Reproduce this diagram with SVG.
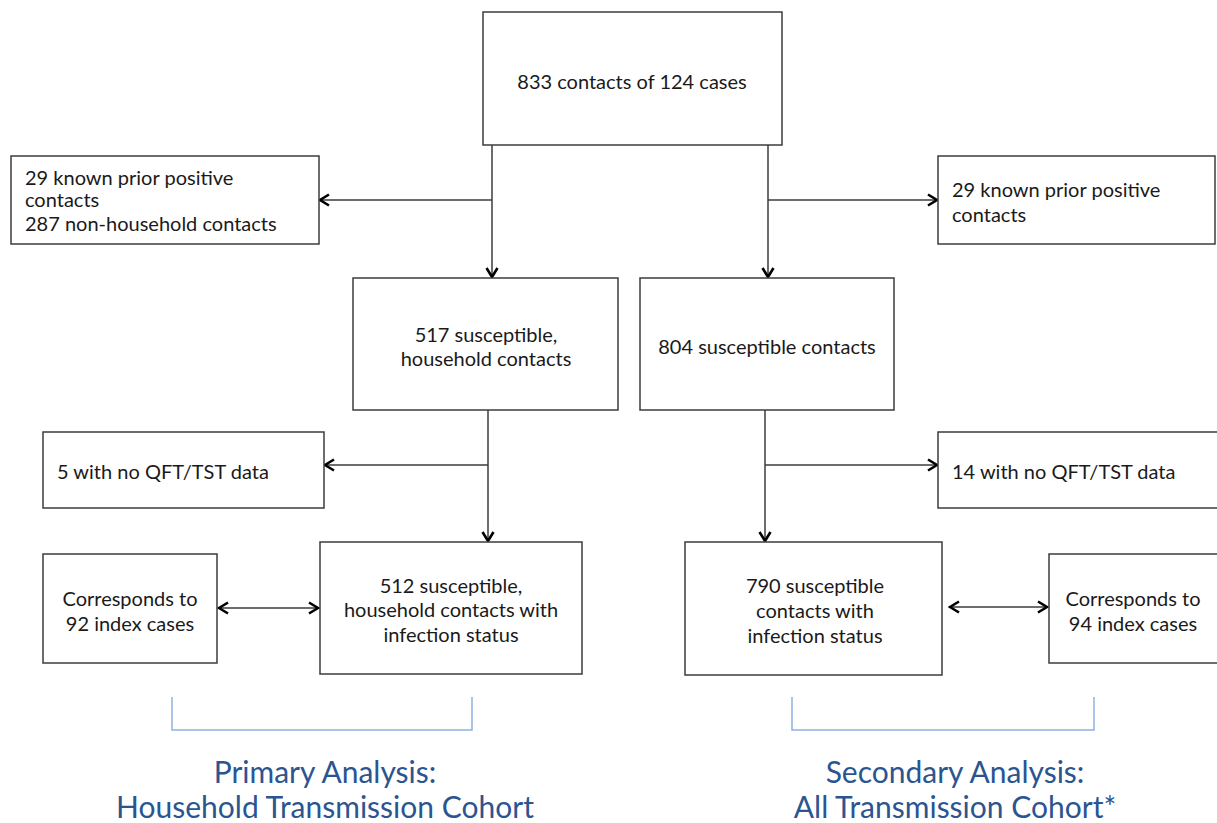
<svg xmlns="http://www.w3.org/2000/svg" width="1217" height="823" viewBox="0 0 1217 823">
<style>
.box{fill:#fff;stroke:#3c3c3c;stroke-width:1.5}
.t{font-family:Lato,"Open Sans",sans-serif;font-size:20px;fill:#1a1a1a}
.c{text-anchor:middle}
.ln{stroke:#3c3c3c;stroke-width:1.5;fill:none}
.br{stroke:#8fb3df;stroke-width:1.5;fill:none}
.title{font-family:Lato,"Open Sans",sans-serif;font-size:30px;fill:#2b5591;text-anchor:middle}
</style>
<defs>
<marker id="ah" viewBox="0 0 14 14" refX="12" refY="7" markerWidth="14" markerHeight="14" markerUnits="userSpaceOnUse" orient="auto-start-reverse">
<path d="M3,1.5 L12,7 L3,12.5" fill="none" stroke="#000" stroke-width="2.6"/>
</marker>
</defs>
<rect width="1217" height="823" fill="#fff"/>
<g id="connectors">
<line class="ln" x1="492" y1="145" x2="492" y2="277" marker-end="url(#ah)"/>
<line class="ln" x1="492" y1="200" x2="320" y2="200" marker-end="url(#ah)"/>
<line class="ln" x1="768" y1="145" x2="768" y2="277" marker-end="url(#ah)"/>
<line class="ln" x1="768" y1="200" x2="937" y2="200" marker-end="url(#ah)"/>
<line class="ln" x1="488" y1="410" x2="488" y2="541" marker-end="url(#ah)"/>
<line class="ln" x1="488" y1="465" x2="325" y2="465" marker-end="url(#ah)"/>
<line class="ln" x1="765" y1="410" x2="765" y2="541" marker-end="url(#ah)"/>
<line class="ln" x1="765" y1="465" x2="937" y2="465" marker-end="url(#ah)"/>
<line class="ln" x1="219" y1="608" x2="318" y2="608" marker-start="url(#ah)" marker-end="url(#ah)"/>
<line class="ln" x1="950" y1="607" x2="1047" y2="607" marker-start="url(#ah)" marker-end="url(#ah)"/>
</g>
<g id="n-top"><rect class="box" x="483" y="12" width="299" height="133"/><text class="t c" x="632" y="89">833 contacts of 124 cases</text></g>
<g id="n-excl1"><rect class="box" x="11" y="156" width="308" height="88"/><text class="t" x="25" y="185">29 known prior positive</text><text class="t" x="25" y="207">contacts</text><text class="t" x="25" y="231">287 non-household contacts</text></g>
<g id="n-excl2"><rect class="box" x="938" y="156" width="277" height="88"/><text class="t" x="952" y="197">29 known prior positive</text><text class="t" x="952" y="222">contacts</text></g>
<g id="n-517"><rect class="box" x="353" y="278" width="265" height="132"/><text class="t c" x="486" y="342">517 susceptible,</text><text class="t c" x="486" y="366">household contacts</text></g>
<g id="n-804"><rect class="box" x="640" y="278" width="254" height="132"/><text class="t c" x="767" y="354">804 susceptible contacts</text></g>
<g id="n-5"><rect class="box" x="43" y="432" width="281" height="76"/><text class="t" x="57" y="479">5 with no QFT/TST data</text></g>
<g id="n-14"><rect class="box" x="938" y="432" width="285" height="76"/><text class="t" x="952" y="479">14 with no QFT/TST data</text></g>
<g id="n-92"><rect class="box" x="43" y="554" width="174" height="109"/><text class="t c" x="130" y="606">Corresponds to</text><text class="t c" x="130" y="631">92 index cases</text></g>
<g id="n-512"><rect class="box" x="320" y="542" width="262" height="132"/><text class="t c" x="451" y="593">512 susceptible,</text><text class="t c" x="451" y="617">household contacts with</text><text class="t c" x="451" y="642">infection status</text></g>
<g id="n-790"><rect class="box" x="685" y="542" width="257" height="133"/><text class="t c" x="815" y="593">790 susceptible</text><text class="t c" x="815" y="618">contacts with</text><text class="t c" x="815" y="643">infection status</text></g>
<g id="n-94"><rect class="box" x="1049" y="554" width="174" height="109"/><text class="t c" x="1133" y="606">Corresponds to</text><text class="t c" x="1133" y="631">94 index cases</text></g>
<g id="primary"><path class="br" d="M172,697 V730 H472 V697"/><text class="title" x="325" y="783">Primary Analysis:</text><text class="title" x="325" y="818">Household Transmission Cohort</text></g>
<g id="secondary"><path class="br" d="M792,697 V730 H1094 V697"/><text class="title" x="955" y="783">Secondary Analysis:</text><text class="title" x="955" y="818">All Transmission Cohort*</text></g>
</svg>
